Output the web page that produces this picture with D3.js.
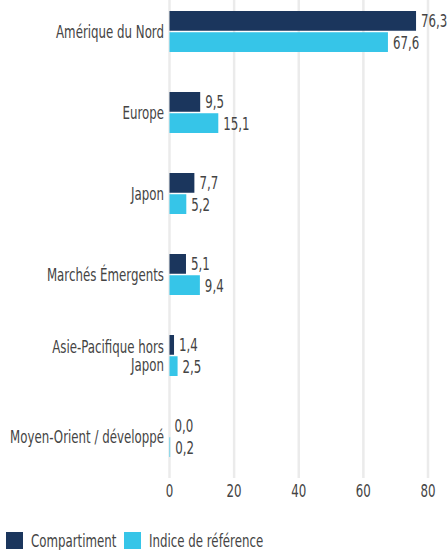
<!DOCTYPE html>
<html>
<head>
<meta charset="utf-8">
<script src="https://cdn.jsdelivr.net/npm/d3@7"></script>
<style>
  body { margin: 0; background: #fff; }
  svg text { font-family: "DejaVu Sans Condensed", "Liberation Sans Narrow", sans-serif; fill: #444; font-size: 18px; }
</style>
</head>
<body>
<div id="chart"></div>
<script>
const categories = [
    ["Amérique du Nord"],
    ["Europe"],
    ["Japon"],
    ["Marchés Émergents"],
    ["Asie-Pacifique hors", "Japon"],
    ["Moyen-Orient / développé"]
];
const compartiment = [76.3, 9.5, 7.7, 5.1, 1.4, 0.0];
const indice = [67.6, 15.1, 5.2, 9.4, 2.5, 0.2];
const seriesNames = ["Compartiment", "Indice de référence"];
const colors = ["#1b365d", "#36c5e8"];
const xTicks = [0, 20, 40, 60, 80];

const width = 448, height = 550;
const narrow = 0.73; // squeeze the text, the original font is condensed
const fmt = v => v.toFixed(1).replace(".", ",");

const svg = d3.select('#chart').append('svg')
    .attr('width', width)
    .attr('height', height);

const x = d3.scaleLinear()
    .domain([0, 80])
    .range([169.5, 428]);

const y = d3.scaleBand()
    .domain(d3.range(categories.length))
    .range([-9.25, 477.25])
    .paddingInner(0.494)
    .paddingOuter(0.25);

const ySub = d3.scaleBand()
    .domain([0, 1])
    .range([0, y.bandwidth()])
    .paddingInner(0.07);

const place = (tx, ty) => `translate(${tx},${ty}) scale(${narrow},1)`;

// grid
svg.append('g')
    .selectAll('line')
    .data(xTicks)
  .enter().append('line')
    .attr('x1', d => x(d))
    .attr('x2', d => x(d))
    .attr('y1', 0)
    .attr('y2', 478)
    .style('stroke', '#ebebeb')
    .style('stroke-width', '2.5px');

// x axis labels
svg.append('g')
    .selectAll('text')
    .data(xTicks)
  .enter().append('text')
    .attr('transform', d => place(x(d), 497))
    .attr('text-anchor', 'middle')
    .text(d => d);

const rows = categories.map((c, i) => ({ label: c, values: [compartiment[i], indice[i]], i }));

const groups = svg.append('g')
    .selectAll('g')
    .data(rows)
  .enter().append('g')
    .attr('transform', d => `translate(0,${y(d.i)})`);

groups.selectAll('rect')
    .data(d => d.values)
  .enter().append('rect')
    .attr('x', x(0))
    .attr('y', (d, j) => ySub(j))
    .attr('width', d => x(d) - x(0))
    .attr('height', ySub.bandwidth())
    .style('fill', (d, j) => colors[j]);

groups.selectAll('text.val')
    .data(d => d.values)
  .enter().append('text')
    .attr('class', 'val')
    .attr('transform', (d, j) => place(x(d) + 5, ySub(j) + ySub.bandwidth() / 2))
    .attr('dy', '0.36em')
    .text(d => fmt(d));

groups.append('text')
    .attr('text-anchor', 'end')
    .attr('transform', d => place(164, y.bandwidth() / 2 - (d.label.length - 1) * 9))
    .selectAll('tspan')
    .data(d => d.label)
  .enter().append('tspan')
    .attr('x', 0)
    .attr('dy', (d, k) => k === 0 ? '0.36em' : '18px')
    .text(d => d);

// legend
const legend = svg.append('g')
    .attr('transform', 'translate(6,532)');
const legendX = [0, 118];
seriesNames.forEach((name, j) => {
    legend.append('rect')
        .attr('x', legendX[j])
        .attr('y', 0)
        .attr('width', 17)
        .attr('height', 17)
        .style('fill', colors[j]);
    legend.append('text')
        .attr('transform', place(legendX[j] + 25, 14.5))
        .text(name);
});
</script>
</body>
</html>
